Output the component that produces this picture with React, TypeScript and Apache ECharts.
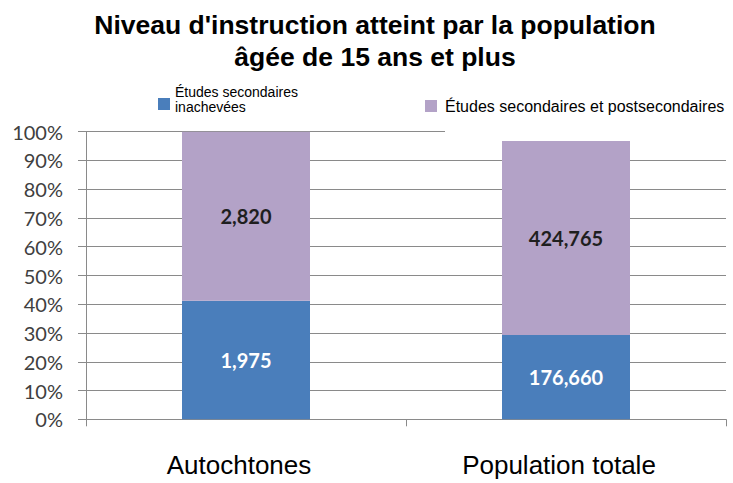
import React, { useEffect, useRef } from "react";
import * as echarts from "echarts";

const categories = ["Autochtones", "Population totale"];
const seriesNames = ["Études secondaires inachevées", "Études secondaires et postsecondaires"];
const legend1Lines = ["Études secondaires", "inachevées"];
const incompletePct = [41.2, 29.3];
const completePct = [58.8, 67.5];
const incompleteCounts = ["1,975", "176,660"];
const completeCounts = ["2,820", "424,765"];
const yTicks = [0, 10, 20, 30, 40, 50, 60, 70, 80, 90, 100];
const colors = ["#4a7ebb", "#b3a2c7"];

export default function App() {
  const ref = useRef<HTMLDivElement>(null);
  useEffect(() => {
    document.body.style.margin = "0";
    const chart = echarts.init(ref.current!, null, { renderer: "svg" });
    const grey = "#8a8a8a";
    chart.setOption({
      animation: false,
      backgroundColor: "#ffffff",
      title: {
        text: "Niveau d'instruction atteint par la population\nâgée de 15 ans et plus",
        left: 375,
        top: 9,
        padding: 0,
        textAlign: "center",
        textStyle: {
          fontFamily: "Liberation Sans",
          fontWeight: "bold",
          fontSize: 26.5,
          lineHeight: 32,
          color: "#000000",
        },
      },
      legend: [
        {
          data: [seriesNames[1]],
          left: 425,
          top: 98,
          padding: 0,
          itemWidth: 12,
          itemHeight: 12,
          icon: "rect",
          textStyle: {
            fontFamily: "Liberation Sans",
            fontSize: 16,
            lineHeight: 16,
            color: "#000",
            padding: [0, 0, 0, 3],
          },
        },
      ],
      grid: { left: 86, right: 7, top: 131.7, bottom: 483 - 419.3, containLabel: false },
      xAxis: {
        type: "category",
        data: categories,
        axisLine: { lineStyle: { color: grey, width: 1 } },
        axisTick: { show: true, length: 7, lineStyle: { color: grey } },
        axisLabel: {
          fontFamily: "Liberation Sans",
          fontSize: 26,
          color: "#000",
          margin: 33,
          padding: [0, 14, 0, 0],
        },
      },
      yAxis: {
        type: "value",
        min: 0,
        max: 100,
        interval: 10,
        axisLine: { show: true, lineStyle: { color: grey } },
        axisTick: { show: true, length: 8, lineStyle: { color: grey } },
        splitLine: { show: true, lineStyle: { color: grey, width: 1 } },
        axisLabel: {
          fontFamily: "Lato",
          fontSize: 20,
          color: "#404040",
          margin: 23,
          formatter: (v: number) => (yTicks.includes(v) ? v + "%" : ""),
        },
      },
      series: [
        {
          name: seriesNames[0],
          type: "bar",
          stack: "total",
          barWidth: "40%",
          data: incompletePct,
          itemStyle: { color: colors[0] },
          label: {
            show: true,
            position: "inside",
            formatter: (p: any) => incompleteCounts[p.dataIndex],
            fontFamily: "Lato",
            fontWeight: "bold",
            fontSize: 20,
            color: "#ffffff",
          },
        },
        {
          name: seriesNames[1],
          type: "bar",
          stack: "total",
          barWidth: "40%",
          data: completePct,
          itemStyle: { color: colors[1] },
          label: {
            show: true,
            position: "inside",
            formatter: (p: any) => completeCounts[p.dataIndex],
            fontFamily: "Lato",
            fontWeight: "bold",
            fontSize: 20,
            color: "#1f1f1f",
          },
        },
      ],
      graphic: [
        {
          type: "rect",
          z: 100,
          shape: { x: 445, y: 128, width: 282, height: 6 },
          style: { fill: "#ffffff" },
        },
        {
          type: "rect",
          z: 100,
          shape: { x: 158, y: 98, width: 12, height: 12 },
          style: { fill: colors[0] },
        },
        {
          type: "text",
          z: 100,
          x: 175,
          y: 84,
          style: {
            text: legend1Lines.join("\n"),
            font: "14px 'Liberation Sans'",
            lineHeight: 15,
            fill: "#000",
          },
        },
      ],
    });
    return () => chart.dispose();
  }, []);
  return <div ref={ref} style={{ width: 733, height: 483 }} />;
}
